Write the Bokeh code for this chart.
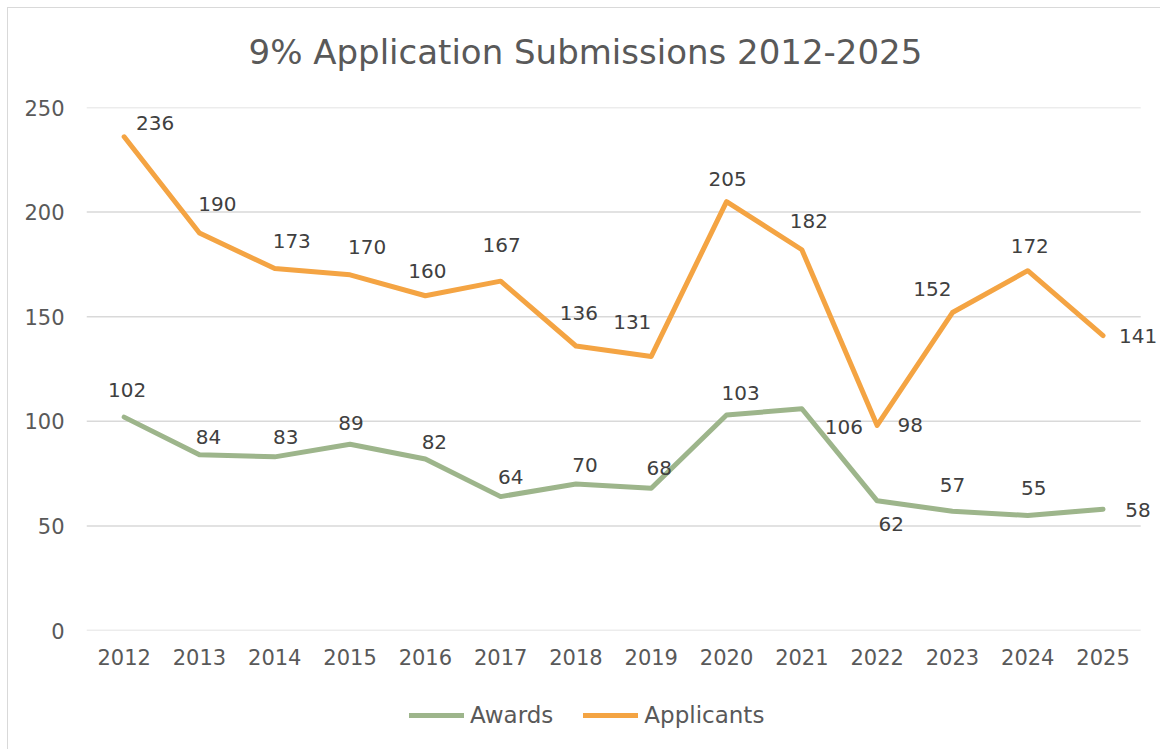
from bokeh.plotting import figure
from bokeh.layouts import column
from bokeh.models import ColumnDataSource, Range1d, Legend, LegendItem, FixedTicker, Label
from bokeh.core.properties import value
from bokeh.embed import file_html
from bokeh.resources import INLINE

title_text = "9% Application Submissions 2012-2025"
years = [2012, 2013, 2014, 2015, 2016, 2017, 2018, 2019, 2020, 2021, 2022, 2023, 2024, 2025]
awards = [102, 84, 83, 89, 82, 64, 70, 68, 103, 106, 62, 57, 55, 58]
applicants = [236, 190, 173, 170, 160, 167, 136, 131, 205, 182, 98, 152, 172, 141]
y_ticks = [0, 50, 100, 150, 200, 250]
series_names = ["Awards", "Applicants"]

# label offsets in screen pixels (style only)
app_dx = [31, 18, 17, 17, 2, 1, 3, -19, 1, 7, 33, -20, 2, 35]
app_dy = [-14, -29, -28, -28, -25, -36, -33, -34, -23, -29, 0, -24, -25, 0]
awd_dx = [3, 9, 11, 1, 9, 10, 9, 8, 14, 42, 14, 0, 6, 35]
awd_dy = [-27, -18, -20, -21, -17, -20, -19, -20, -22, 18, 23, -26, -27, 1]

FONT = "DejaVu Sans"
GREEN = "#9db58b"
ORANGE = "#f4a443"
TXT = "#595959"
LBL = "#404040"
GRID = "#d9d9d9"


def strip(h):
    f = figure(width=1152, height=h, output_backend="svg", toolbar_location=None,
               x_range=Range1d(0, 1), y_range=Range1d(0, 1),
               min_border=0, x_axis_location=None, y_axis_location=None)
    f.outline_line_color = None
    f.xgrid.grid_line_color = None
    f.ygrid.grid_line_color = None
    return f


# title strip
t = strip(79)
t.add_layout(Label(x=162, y=36, x_units="screen", y_units="screen", text=title_text,
                   text_font=FONT, text_font_size="34px", text_color=TXT,
                   text_baseline="middle", text_align="left"))

X0, X1 = years[0] - 0.5, years[-1] + 0.5
p = figure(width=1152, height=595, frame_width=1074, frame_height=523,
           output_backend="svg", toolbar_location=None,
           x_range=Range1d(X0, X0 + 1074 / 75.3), y_range=Range1d(0, 250),
           min_border_left=78, min_border_right=0, min_border_top=20, min_border_bottom=52)

p.outline_line_color = None
p.xgrid.grid_line_color = None
p.ygrid.grid_line_color = None

# horizontal gridlines over the category span only
p.segment(x0=[X0] * len(y_ticks), x1=[X1] * len(y_ticks), y0=y_ticks, y1=y_ticks,
          line_color=GRID, line_width=1.5)

p.yaxis.ticker = FixedTicker(ticks=y_ticks)
p.xaxis.ticker = FixedTicker(ticks=years)
for ax in (p.xaxis, p.yaxis):
    ax.axis_line_color = None
    ax.major_tick_line_color = None
    ax.minor_tick_line_color = None
    ax.major_tick_out = 0
    ax.major_tick_in = 0
    ax.major_label_text_font = FONT
    ax.major_label_text_font_size = "21px"
    ax.major_label_text_color = TXT
p.yaxis.major_label_standoff = 22
p.xaxis.major_label_standoff = 18

src = ColumnDataSource(dict(x=years, awd=awards, app=applicants,
                            awd_t=[str(v) for v in awards], app_t=[str(v) for v in applicants],
                            adx=awd_dx, ady=awd_dy, pdx=app_dx, pdy=app_dy))

p.line("x", "awd", source=src, line_color=GREEN, line_width=5, line_cap="round", line_join="round")
p.line("x", "app", source=src, line_color=ORANGE, line_width=5, line_cap="round", line_join="round")

p.text("x", "awd", text="awd_t", source=src, x_offset="adx", y_offset="ady",
       text_align="center", text_baseline="middle", text_font=value(FONT),
       text_font_size="20px", text_color=LBL)
p.text("x", "app", text="app_t", source=src, x_offset="pdx", y_offset="pdy",
       text_align="center", text_baseline="middle", text_font=value(FONT),
       text_font_size="20px", text_color=LBL)

# legend strip below the chart (same series; the data lie outside this strip's ranges)
q = strip(67)
l_awd = q.line("x", "awd", source=src, line_color=GREEN, line_width=5, line_cap="round")
l_app = q.line("x", "app", source=src, line_color=ORANGE, line_width=5, line_cap="round")

legend = Legend(items=[LegendItem(label=series_names[0], renderers=[l_awd]),
                       LegendItem(label=series_names[1], renderers=[l_app])],
                orientation="horizontal", location=(323, 21),
                label_text_font=FONT, label_text_font_size="23px", label_text_color=TXT,
                glyph_width=55, glyph_height=20, spacing=30, label_standoff=6,
                border_line_color=None, background_fill_alpha=0, padding=4, margin=0)
q.add_layout(legend, "center")

layout = column(t, p, q, spacing=0)
layout.styles = {"margin": "7px 0 0 7px", "border-left": "1px solid #d9d9d9",
                 "border-top": "1px solid #d9d9d9"}

open("out.html", "w").write(file_html(layout, INLINE))
